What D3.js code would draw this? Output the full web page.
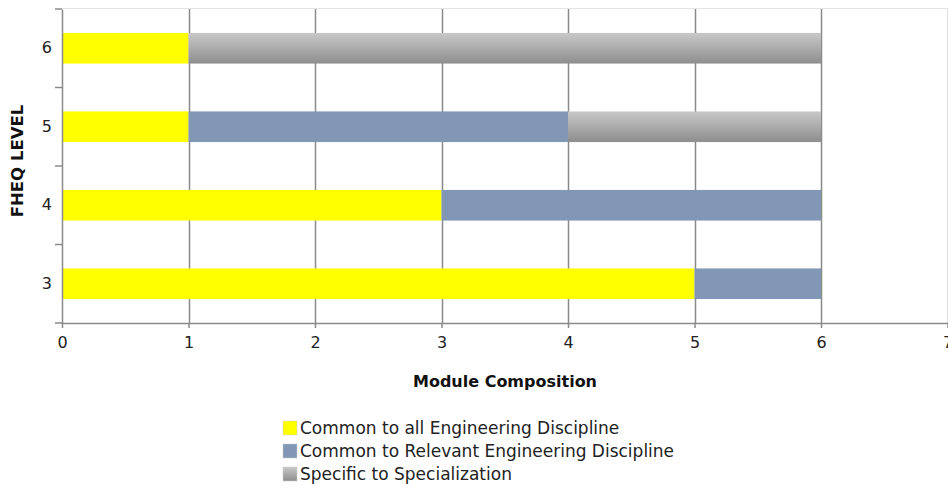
<!DOCTYPE html>
<html><head><meta charset="utf-8">
<script src="https://cdn.jsdelivr.net/npm/d3@7"></script>
<style>body{margin:0;background:#fff}svg{display:block}</style>
</head><body><svg id="c" width="948" height="488"></svg>
<script>
const levels = ["6","5","4","3"];
const seriesNames = ["Common to all Engineering Discipline","Common to Relevant Engineering Discipline","Specific to Specialization"];
const commonAll = [1,1,3,5];
const commonRelevant = [0,3,3,1];
const specific = [5,2,0,0];
const xTicks = [0,1,2,3,4,5,6,7];
const colors = ["#ffff00","#8197b5","url(#gr)"];

const svg = d3.select("#c");
const font = "'DejaVu Sans', 'Open Sans', sans-serif";
const defs = svg.append("defs");
const g = defs.append("linearGradient").attr("id","gr").attr("x1",0).attr("x2",0).attr("y1",0).attr("y2",1);
g.append("stop").attr("offset","0%").attr("stop-color","#c8c8c8");
g.append("stop").attr("offset","100%").attr("stop-color","#8e8e8e");

const x = d3.scaleLinear().domain([0,7]).range([62,947.5]);
const y = d3.scaleBand().domain(levels).range([9,323]).paddingInner(0.61).paddingOuter(0.305);

// gridlines
svg.append("line").attr("x1",62).attr("x2",948).attr("y1",8.5).attr("y2",8.5).attr("stroke","#e4e4e4");
svg.selectAll(".gl").data(xTicks.slice(1)).join("line")
  .attr("x1",d=>Math.round(x(d))+0.5).attr("x2",d=>Math.round(x(d))+0.5)
  .attr("y1",9).attr("y2",323).attr("stroke","#8a8a8a").attr("stroke-width",1.5);

// stacked bars
const rows = levels.map((l,i)=>({level:l, v:[commonAll[i],commonRelevant[i],specific[i]]}));
rows.forEach(r=>{
  let acc=0;
  r.v.forEach((v,k)=>{
    if(v>0){
      svg.append("rect").attr("x",x(acc)).attr("y",y(r.level)).attr("width",x(acc+v)-x(acc))
        .attr("height",y.bandwidth()).attr("fill",colors[k]);
    }
    acc+=v;
  });
});

// x axis
const xa = svg.append("g").attr("transform","translate(0,323)")
  .call(d3.axisBottom(x).tickValues(xTicks).tickFormat(d3.format("d")).tickSize(5).tickSizeOuter(0).tickPadding(9));
xa.select(".domain").attr("stroke","#8a8a8a").attr("stroke-width",1.5);
xa.selectAll(".tick line").attr("stroke","#8a8a8a").attr("stroke-width",1.5);
xa.selectAll("text").attr("font-family",font).attr("font-size",16).attr("fill","#222");

// y axis
const ya = svg.append("g").attr("transform","translate(62,0)")
  .call(d3.axisLeft(y).tickSize(0).tickPadding(10));
ya.select(".domain").attr("stroke","#8a8a8a").attr("stroke-width",1.5);
ya.selectAll("text").attr("font-family",font).attr("font-size",16).attr("fill","#222");
const bounds = [9, ...levels.map(l=>y(l)+y.bandwidth()+(y.step()*y.paddingInner())/2)];
bounds[4]=323;
svg.selectAll(".yt").data(bounds).join("line").attr("x1",55).attr("x2",62)
  .attr("y1",d=>d).attr("y2",d=>d).attr("stroke","#8a8a8a").attr("stroke-width",1.5);

// titles
svg.append("text").attr("x",505).attr("y",387).attr("text-anchor","middle")
  .attr("font-family",font).attr("font-size",16).attr("font-weight","bold").attr("fill","#111").text("Module Composition");
svg.append("text").attr("transform","translate(23,161) rotate(-90)").attr("text-anchor","middle")
  .attr("font-family",font).attr("font-size",16.5).attr("font-weight","bold").attr("fill","#111").text("FHEQ LEVEL");

// legend
const lg = svg.append("g");
seriesNames.forEach((n,i)=>{
  const yy = 421 + i*23;
  lg.append("rect").attr("x",283).attr("y",yy).attr("width",14).attr("height",14).attr("fill",colors[i]).attr("stroke","#ccc").attr("stroke-width",0.5);
  lg.append("text").attr("x",300).attr("y",yy+13).attr("font-family",font).attr("font-size",17).attr("fill","#222").text(n);
});
</script></body></html>
